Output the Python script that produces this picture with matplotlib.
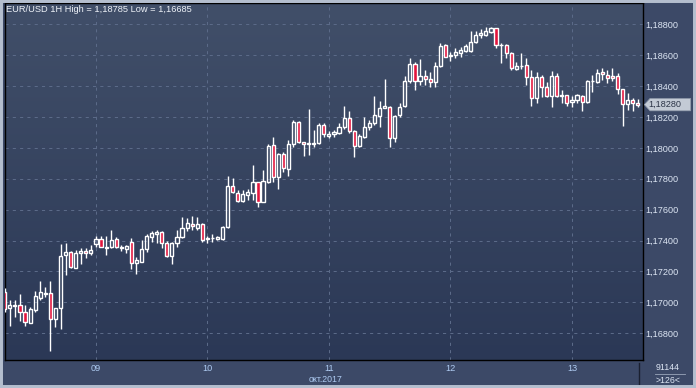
import numpy as np
import matplotlib
matplotlib.use("Agg")
import matplotlib.pyplot as plt
from matplotlib.patches import Rectangle, Polygon
from matplotlib.transforms import blended_transform_factory

# EUR/USD hourly candles, 6-13 Oct 2017
opens = [1.17069, 1.16962, 1.16975, 1.16983, 1.16936, 1.16869, 1.16951, 1.17030, 1.17054, 1.17059,
         1.16893, 1.16962, 1.17307, 1.17324, 1.17224, 1.17318, 1.17335, 1.17318, 1.17378, 1.17408,
         1.17360, 1.17357, 1.17410, 1.17357, 1.17344, 1.17391, 1.17253, 1.17263, 1.17346, 1.17425,
         1.17445, 1.17454, 1.17382, 1.17302, 1.17382, 1.17425, 1.17483, 1.17505, 1.17483, 1.17505,
         1.17413, 1.17415, 1.17410, 1.17410, 1.17490, 1.17755, 1.17706, 1.17656, 1.17695, 1.17711,
         1.17777, 1.17652, 1.17777, 1.18019, 1.17813, 1.17958, 1.17865, 1.18025, 1.18169, 1.18036,
         1.18025, 1.18028, 1.18030, 1.18148, 1.18079, 1.18088, 1.18098, 1.18133, 1.18191, 1.18109,
         1.18014, 1.18072, 1.18133, 1.18159, 1.18208, 1.18260, 1.18266, 1.18062, 1.18213, 1.18273,
         1.18433, 1.18543, 1.18435, 1.18465, 1.18444, 1.18424, 1.18530, 1.18666, 1.18595, 1.18599,
         1.18612, 1.18629, 1.18629, 1.18687, 1.18729, 1.18731, 1.18752, 1.18774, 1.18666, 1.18668,
         1.18612, 1.18509, 1.18530, 1.18536, 1.18461, 1.18321, 1.18457, 1.18392, 1.18336, 1.18465,
         1.18336, 1.18342, 1.18295, 1.18310, 1.18336, 1.18299, 1.18433, 1.18428, 1.18493, 1.18472,
         1.18465, 1.18465, 1.18379, 1.18282, 1.18310, 1.18288]
highs = [1.17093, 1.17015, 1.17015, 1.17054, 1.16983, 1.16968, 1.17074, 1.17138, 1.17102, 1.17138,
         1.16962, 1.17378, 1.17386, 1.17330, 1.17339, 1.17350, 1.17350, 1.17371, 1.17430, 1.17430,
         1.17430, 1.17468, 1.17421, 1.17371, 1.17370, 1.17417, 1.17296, 1.17404, 1.17441, 1.17462,
         1.17468, 1.17462, 1.17397, 1.17393, 1.17468, 1.17555, 1.17544, 1.17561, 1.17555, 1.17512,
         1.17432, 1.17441, 1.17432, 1.17496, 1.17820, 1.17807, 1.17727, 1.17727, 1.17734, 1.17889,
         1.17780, 1.17857, 1.18025, 1.18068, 1.17965, 1.17975, 1.18051, 1.18180, 1.18174, 1.18040,
         1.18250, 1.18116, 1.18163, 1.18159, 1.18109, 1.18116, 1.18163, 1.18271, 1.18239, 1.18116,
         1.18088, 1.18198, 1.18180, 1.18336, 1.18305, 1.18444, 1.18271, 1.18213, 1.18288, 1.18465,
         1.18580, 1.18558, 1.18573, 1.18504, 1.18493, 1.18558, 1.18681, 1.18672, 1.18622, 1.18644,
         1.18655, 1.18670, 1.18758, 1.18758, 1.18767, 1.18784, 1.18785, 1.18778, 1.18681, 1.18670,
         1.18618, 1.18558, 1.18612, 1.18580, 1.18504, 1.18493, 1.18472, 1.18428, 1.18499, 1.18487,
         1.18375, 1.18345, 1.18336, 1.18349, 1.18340, 1.18439, 1.18472, 1.18509, 1.18515, 1.18504,
         1.18515, 1.18487, 1.18382, 1.18353, 1.18321, 1.18314]
lows = [1.16938, 1.16847, 1.16907, 1.16880, 1.16847, 1.16865, 1.16940, 1.17015, 1.17033, 1.16685,
        1.16843, 1.16826, 1.17177, 1.17224, 1.17220, 1.17246, 1.17289, 1.17307, 1.17360, 1.17357,
        1.17307, 1.17352, 1.17352, 1.17335, 1.17318, 1.17216, 1.17182, 1.17259, 1.17324, 1.17393,
        1.17382, 1.17354, 1.17296, 1.17246, 1.17360, 1.17415, 1.17462, 1.17468, 1.17468, 1.17389,
        1.17382, 1.17393, 1.17404, 1.17404, 1.17479, 1.17706, 1.17652, 1.17652, 1.17663, 1.17663,
        1.17619, 1.17650, 1.17771, 1.17781, 1.17732, 1.17846, 1.17818, 1.18004, 1.18030, 1.17947,
        1.17954, 1.18004, 1.18025, 1.18068, 1.18066, 1.18072, 1.18090, 1.18120, 1.18098, 1.17943,
        1.18004, 1.18066, 1.18116, 1.18148, 1.18133, 1.18256, 1.18008, 1.18040, 1.18202, 1.18263,
        1.18422, 1.18375, 1.18407, 1.18407, 1.18396, 1.18396, 1.18525, 1.18586, 1.18564, 1.18580,
        1.18586, 1.18622, 1.18618, 1.18677, 1.18709, 1.18724, 1.18742, 1.18644, 1.18551, 1.18580,
        1.18504, 1.18504, 1.18509, 1.18407, 1.18271, 1.18292, 1.18327, 1.18331, 1.18263, 1.18331,
        1.18288, 1.18271, 1.18263, 1.18292, 1.18241, 1.18292, 1.18364, 1.18418, 1.18439, 1.18418,
        1.18435, 1.18349, 1.18142, 1.18245, 1.18241, 1.18263]
closes = [1.16955, 1.16983, 1.16983, 1.16940, 1.16875, 1.16955, 1.17041, 1.17069, 1.17063, 1.16890,
          1.16962, 1.17300, 1.17328, 1.17231, 1.17318, 1.17333, 1.17318, 1.17339, 1.17408, 1.17360,
          1.17354, 1.17404, 1.17357, 1.17352, 1.17367, 1.17255, 1.17274, 1.17346, 1.17432, 1.17447,
          1.17457, 1.17382, 1.17302, 1.17382, 1.17425, 1.17479, 1.17512, 1.17494, 1.17505, 1.17404,
          1.17415, 1.17417, 1.17423, 1.17490, 1.17755, 1.17712, 1.17656, 1.17700, 1.17712, 1.17777,
          1.17652, 1.17786, 1.18012, 1.17810, 1.17958, 1.17868, 1.18025, 1.18169, 1.18036, 1.18025,
          1.18030, 1.18032, 1.18148, 1.18090, 1.18088, 1.18103, 1.18133, 1.18191, 1.18109, 1.18014,
          1.18077, 1.18133, 1.18159, 1.18213, 1.18260, 1.18268, 1.18062, 1.18208, 1.18266, 1.18433,
          1.18543, 1.18435, 1.18465, 1.18444, 1.18424, 1.18530, 1.18659, 1.18590, 1.18603, 1.18618,
          1.18633, 1.18659, 1.18687, 1.18731, 1.18745, 1.18756, 1.18774, 1.18666, 1.18668, 1.18612,
          1.18515, 1.18530, 1.18532, 1.18461, 1.18321, 1.18457, 1.18392, 1.18336, 1.18465, 1.18336,
          1.18342, 1.18288, 1.18310, 1.18342, 1.18299, 1.18433, 1.18436, 1.18487, 1.18478, 1.18450,
          1.18450, 1.18379, 1.18282, 1.18310, 1.18288, 1.18280]

day_labels = ['09', '10', '11', '12', '13']
day_starts = [18, 40, 64, 88, 112]      # index of first candle of each day
price_ticks = [1.168, 1.170, 1.172, 1.174, 1.176, 1.178, 1.180, 1.182, 1.184, 1.186, 1.188]
last_price = 1.18280
title = 'EUR/USD 1H High = 1,18785 Low = 1,16685'
month_label = 'окт.2017'
bars_count = '91144'
bars_shown = '>126<'

# colours
BG_TOP = (0.255, 0.310, 0.412)
BG_BOT = (0.169, 0.220, 0.337)
STRIP = '#3c4967'
FRAME = '#b4bece'
RED = '#e3143c'
GRID = '#5b6a88'
LBL = '#dce5f3'
DATE = '#aecbf2'

W, H = 696, 388
fig = plt.figure(figsize=(W / 100, H / 100), dpi=100, facecolor=STRIP)

# plot area in pixel terms
L_PX, R_PX, T_PX, B_PX = 4.7, 642.5, 3.3, 360
ax = fig.add_axes([L_PX / W, 1 - B_PX / H, (R_PX - L_PX) / W, (B_PX - T_PX) / H])

n = len(opens)
xs = np.arange(n)
ax.set_xlim(-0.02, 125.93)
ax.set_ylim(1.16627, 1.18936)

# gradient background
grad = np.linspace(0, 1, 256)[:, None]
img = np.zeros((256, 2, 3))
for k in range(3):
    img[:, :, k] = BG_TOP[k] + (BG_BOT[k] - BG_TOP[k]) * grad
ax.imshow(img, extent=[-0.02, 125.93, 1.16627, 1.18936], origin='upper', aspect='auto',
          zorder=0, interpolation='bilinear')

# dashed grid
for p in price_ticks:
    ax.axhline(p, color=GRID, lw=0.75, dashes=(3, 4), zorder=1)
for d in day_starts:
    ax.axvline(d, color=GRID, lw=0.75, dashes=(3, 4), zorder=1)

# candles
bw = 0.62
lw = 1.0
for i in range(n):
    o, h, l, c = opens[i], highs[i], lows[i], closes[i]
    top, bot = max(o, c), min(o, c)
    ax.plot([xs[i], xs[i]], [top, h], color='white', lw=lw, zorder=3, solid_capstyle='butt')
    ax.plot([xs[i], xs[i]], [l, bot], color='white', lw=lw, zorder=3, solid_capstyle='butt')
    face = RED if c < o else 'none'
    ax.add_patch(Rectangle((xs[i] - bw / 2, bot), bw, top - bot, facecolor=face,
                           edgecolor='white', lw=lw, zorder=4))

for s in ax.spines.values():
    s.set_color('black')
    s.set_linewidth(1.0)

# axes labels
ax.yaxis.tick_right()
ax.set_yticks(price_ticks)
ax.set_yticklabels([f'{p:.5f}'.replace('.', ',') for p in price_ticks])
ax.set_xticks(day_starts)
ax.set_xticklabels(day_labels)
ax.tick_params(axis='y', length=0, pad=2.0, labelsize=6.6, labelcolor=LBL)
ax.tick_params(axis='x', length=0, pad=2.6, labelsize=6.6, labelcolor=DATE)
for t in ax.get_xticklabels() + ax.get_yticklabels():
    t.set_family('Liberation Sans')

# last price tag
tr = blended_transform_factory(fig.transFigure, ax.transData)
dp = 0.00040
tag = Polygon([(644.3 / W, last_price), (650 / W, last_price + dp), (690.7 / W, last_price + dp),
               (690.7 / W, last_price - dp), (650 / W, last_price - dp)],
              closed=True, transform=tr, facecolor='#c3cad5', edgecolor='#8d97a8', lw=0.5,
              clip_on=False, zorder=10)
ax.add_patch(tag)
ax.text(648 / W, last_price, f'{last_price:.5f}'.replace('.', ','), transform=tr,
        fontsize=6.6, family='Liberation Sans', color='#2d3548', va='center', ha='left',
        zorder=11, clip_on=False)

# title
fig.text(6 / W, 1 - 9.7 / H, title, fontsize=6.7, family='Liberation Sans', color='#eef2f8',
         va='center', ha='left')

# month below the 11th
fig.text(326 / W, 1 - 379.5 / H, month_label, fontsize=6.3, family='Liberation Sans',
         color=DATE, va='center', ha='center')

# bottom-right corner box
fig.add_artist(plt.Line2D([639 / W, 639 / W], [1 - 363 / H, 1 - 385 / H], color='#1a2030',
                          lw=1.0, transform=fig.transFigure))
fig.text(668 / W, 1 - 367.7 / H, bars_count, fontsize=6.3, family='Liberation Sans',
         color=LBL, va='center', ha='center')
fig.add_artist(plt.Line2D([655 / W, 685 / W], [1 - 374.3 / H, 1 - 374.3 / H], color='#9aa6ba',
                          lw=0.6, transform=fig.transFigure))
fig.text(668 / W, 1 - 380.7 / H, bars_shown, fontsize=6.3, family='Liberation Sans',
         color=LBL, va='center', ha='center')

# outer light frame
fig.add_artist(Rectangle((0, 0), 1, 1, transform=fig.transFigure, facecolor='none',
                         edgecolor=FRAME, lw=4.3, zorder=20))

fig.savefig('out.png', dpi=100, facecolor=fig.get_facecolor())
